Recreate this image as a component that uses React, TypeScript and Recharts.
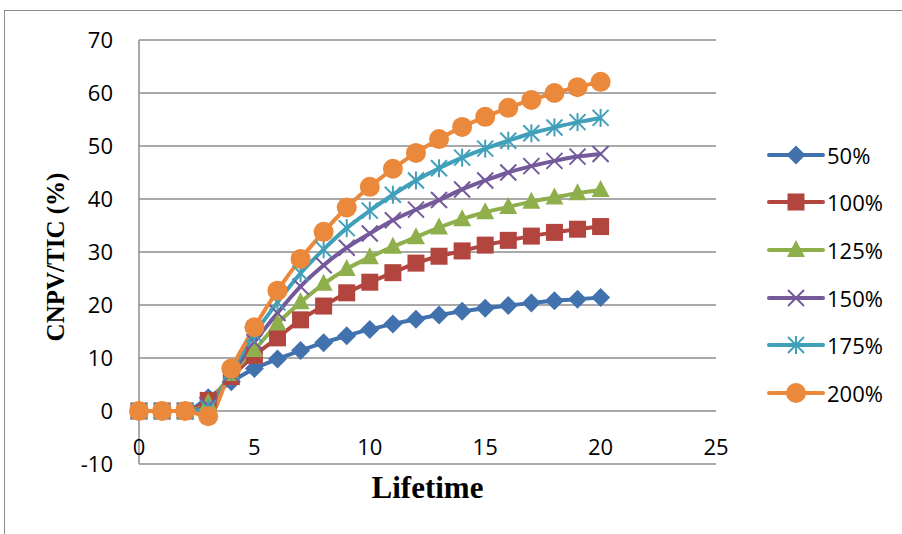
import React from "react";
import { LineChart, Line, XAxis, YAxis, CartesianGrid, Label } from "recharts";

const years = [0, 1, 2, 3, 4, 5, 6, 7, 8, 9, 10, 11, 12, 13, 14, 15, 16, 17, 18, 19, 20];
const s50 = [0, 0, 0, 2.5, 5.5, 8, 9.8, 11.4, 12.9, 14.2, 15.4, 16.4, 17.3, 18.1, 18.8, 19.4, 19.9, 20.4, 20.8, 21.1, 21.4];
const s100 = [0, 0, 0, 2, 6.5, 10.5, 13.8, 17.2, 19.8, 22.3, 24.3, 26.1, 27.9, 29.2, 30.2, 31.3, 32.2, 33.0, 33.7, 34.3, 34.8];
const s125 = [0, 0, 0, 1.5, 7, 11.5, 16.5, 20.5, 24, 26.8, 29, 31, 32.8, 34.6, 36.2, 37.5, 38.5, 39.5, 40.3, 41.1, 41.7];
const s150 = [0, 0, 0, 1, 7, 13, 18.5, 23.5, 27.5, 30.8, 33.5, 36, 38, 39.8, 41.8, 43.5, 45, 46.2, 47.2, 48, 48.5];
const s175 = [0, 0, 0, 0.5, 7.5, 14.5, 20.5, 26, 30.5, 34.5, 37.8, 40.8, 43.5, 45.8, 47.8, 49.5, 51, 52.4, 53.5, 54.5, 55.3];
const s200 = [0, 0, 0, -1, 8, 15.8, 22.7, 28.7, 33.8, 38.4, 42.3, 45.7, 48.7, 51.3, 53.6, 55.5, 57.2, 58.7, 60, 61.1, 62.1];

const seriesNames = ["50%", "100%", "125%", "150%", "175%", "200%"];
const seriesValues = [s50, s100, s125, s150, s175, s200];
const seriesColors = ["#4272AE", "#B3453F", "#8FAF4D", "#74599B", "#40A0BA", "#EA883C"];
const seriesMarkers = ["diamond", "square", "triangle", "x", "star", "circle"];

const xTicks = [0, 5, 10, 15, 20, 25];
const yTicks = [-10, 0, 10, 20, 30, 40, 50, 60, 70];

const keys = seriesNames.map((_, i) => "s" + i);
const data = years.map((y, idx) => {
  const row: Record<string, number> = { year: y };
  seriesValues.forEach((vals, i) => {
    row[keys[i]] = vals[idx];
  });
  return row;
});

const TICK_FONT = "'Open Sans', 'Noto Sans', sans-serif";
const GRID = "#8c8c8c";

function Marker({ kind, cx, cy, color }: { kind: string; cx: number; cy: number; color: string }) {
  switch (kind) {
    case "diamond":
      return <polygon points={`${cx},${cy - 9.5} ${cx + 9.5},${cy} ${cx},${cy + 9.5} ${cx - 9.5},${cy}`} fill={color} />;
    case "square":
      return <rect x={cx - 8.5} y={cy - 8.5} width={17} height={17} fill={color} />;
    case "triangle":
      return <polygon points={`${cx},${cy - 10} ${cx + 9},${cy + 7} ${cx - 9},${cy + 7}`} fill={color} />;
    case "x":
      return (
        <g stroke={color} strokeWidth={2}>
          <line x1={cx - 8} y1={cy - 8} x2={cx + 8} y2={cy + 8} />
          <line x1={cx - 8} y1={cy + 8} x2={cx + 8} y2={cy - 8} />
        </g>
      );
    case "star":
      return (
        <g stroke={color} strokeWidth={2}>
          <line x1={cx - 8} y1={cy - 8} x2={cx + 8} y2={cy + 8} />
          <line x1={cx - 8} y1={cy + 8} x2={cx + 8} y2={cy - 8} />
          <line x1={cx} y1={cy - 9} x2={cx} y2={cy + 9} />
        </g>
      );
    default:
      return <circle cx={cx} cy={cy} r={10} fill={color} />;
  }
}

const XTick = (props: any) => {
  const { x, y, payload } = props;
  return (
    <text x={x} y={y - 26} textAnchor="middle" dominantBaseline="central" fontFamily={TICK_FONT} fontSize={22} fill="#000">
      {payload.value}
    </text>
  );
};

function LegendBox() {
  return (
    <div style={{ position: "absolute", left: 766, top: 131 }}>
      {seriesNames.map((name, i) => (
        <div key={name} style={{ display: "flex", alignItems: "center", height: 47.6 }}>
          <svg width={60} height={24} style={{ display: "block" }}>
            <line x1={3} y1={12} x2={57} y2={12} stroke={seriesColors[i]} strokeWidth={4} strokeLinecap="round" />
            <Marker kind={seriesMarkers[i]} cx={30} cy={12} color={seriesColors[i]} />
          </svg>
          <span style={{ fontFamily: TICK_FONT, fontSize: 22, color: "#000", marginLeft: 1 }}>{name}</span>
        </div>
      ))}
    </div>
  );
}

export default function App() {
  return (
    <div style={{ position: "fixed", left: 0, top: 0, width: 902, height: 534, overflow: "hidden", background: "#fff" }}>
      <div
        style={{
          position: "absolute",
          left: 4,
          top: 10,
          width: 1000,
          height: 1000,
          border: `1.5px solid ${GRID}`,
          boxSizing: "border-box",
        }}
      />
      <div style={{ position: "absolute", left: 0, top: 0 }}>
        <LineChart width={902} height={534} data={data} margin={{ top: 40, right: 186, bottom: 40, left: 79 }}>
          <CartesianGrid vertical={false} stroke={GRID} strokeWidth={1.5} />
          <XAxis
            dataKey="year"
            type="number"
            domain={[0, 25]}
            ticks={xTicks}
            axisLine={false}
            tickLine={false}
            height={30}
            tick={<XTick />}
            interval={0}
          >
            <Label
              content={(p: any) => {
                const vb = p.viewBox || {};
                return (
                  <text
                    x={vb.x + vb.width / 2}
                    y={498}
                    textAnchor="middle"
                    fontFamily="'Liberation Serif', 'Times New Roman', serif"
                    fontWeight="bold"
                    fontSize={31}
                    fill="#000"
                  >
                    Lifetime
                  </text>
                );
              }}
            />
          </XAxis>
          <YAxis
            type="number"
            domain={[-10, 70]}
            ticks={yTicks}
            width={60}
            axisLine={{ stroke: GRID, strokeWidth: 1.5 }}
            tickLine={false}
            tickMargin={20}
            tick={{ fontFamily: TICK_FONT, fontSize: 22, fill: "#000" }}
            interval={0}
          >
            <Label
              content={() => (
                <text
                  transform="translate(64,257) rotate(-90)"
                  textAnchor="middle"
                  fontFamily="'Liberation Serif', 'Times New Roman', serif"
                  fontWeight="bold"
                  fontSize={25}
                  fill="#000"
                >
                  CNPV/TIC (%)
                </text>
              )}
            />
          </YAxis>
          {keys.map((k, i) => (
            <Line
              key={k}
              dataKey={k}
              name={seriesNames[i]}
              type="monotone"
              stroke={seriesColors[i]}
              strokeWidth={4}
              isAnimationActive={false}
              dot={(p: any) => (
                <Marker key={`${k}-${p.index}`} kind={seriesMarkers[i]} cx={p.cx} cy={p.cy} color={seriesColors[i]} />
              )}
              activeDot={false}
            />
          ))}
        </LineChart>
      </div>
      <LegendBox />
    </div>
  );
}
